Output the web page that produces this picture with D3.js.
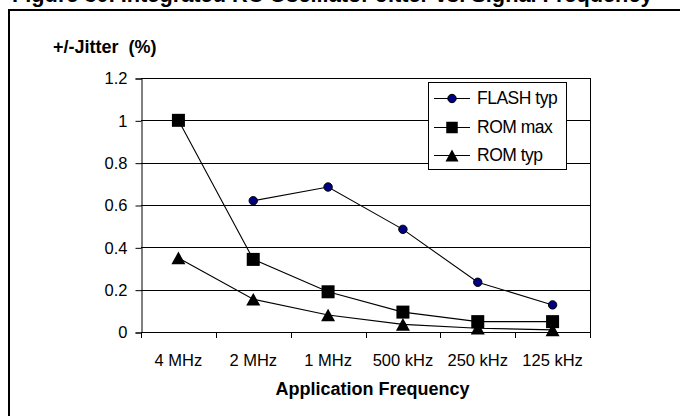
<!DOCTYPE html>
<html>
<head>
<meta charset="utf-8">
<script src="https://cdn.jsdelivr.net/npm/d3@7"></script>
<style>
  html, body { margin: 0; padding: 0; background: #fff; }
  svg { display: block; font-family: "Liberation Sans", Arial, sans-serif; }
</style>
</head>
<body>
<svg id="chart" width="680" height="416"></svg>
<script>
const categories = ["4 MHz", "2 MHz", "1 MHz", "500 kHz", "250 kHz", "125 kHz"];
const flashTyp = [null, 0.62, 0.685, 0.485, 0.235, 0.128];
const romMax   = [1.0, 0.343, 0.19, 0.094, 0.049, 0.049];
const romTyp   = [0.35, 0.155, 0.08, 0.036, 0.018, 0.01];
const yTicks   = [0, 0.2, 0.4, 0.6, 0.8, 1, 1.2];
const seriesNames = ["FLASH typ", "ROM max", "ROM typ"];
const titleText = "Figure 30. Integrated RC Oscillator Jitter vs. Signal Frequency";
const yTitle = "+/-Jitter  (%)";
const xTitle = "Application Frequency";

const svg = d3.select("#chart");
const pLeft = 141, pRight = 590, pTop = 78, pBottom = 332;

const x = d3.scaleBand().domain(categories).range([pLeft, pRight]);
const y = d3.scaleLinear().domain([0, 1.2]).range([pBottom, pTop]);

// title, mostly above the top edge (as in the reference crop)
const title = svg.append("text").attr("x", 12).attr("y", 2)
  .attr("font-size", 22).attr("font-weight", "bold").text(titleText);
const tl = title.node().getComputedTextLength();
if (tl > 0) title.attr("font-size", 22 * 641 / tl);

// outer frame
svg.append("rect").attr("x", 9).attr("y", 10).attr("width", 700).attr("height", 440)
  .attr("fill", "none").attr("stroke", "#000").attr("stroke-width", 2);

// gridlines
svg.append("g").selectAll("line").data(yTicks.filter(d => d > 0)).join("line")
  .attr("x1", pLeft).attr("x2", pRight)
  .attr("y1", d => Math.round(y(d)) + 0.5).attr("y2", d => Math.round(y(d)) + 0.5)
  .attr("stroke", "#000").attr("stroke-width", 1);

// right border of plot area
svg.append("line").attr("x1", pRight + 0.5).attr("x2", pRight + 0.5)
  .attr("y1", pTop).attr("y2", pBottom).attr("stroke", "#000");

// y axis
const yAxis = d3.axisLeft(y).tickValues(yTicks).tickSize(6).tickPadding(8)
  .tickFormat(d => d3.format("")(d));
const gy = svg.append("g").attr("transform", `translate(${pLeft + 0.5},0.5)`).call(yAxis);
gy.select(".domain").attr("stroke", "#000");
gy.selectAll("text").attr("font-size", 16.5).attr("fill", "#000")
  .attr("font-family", '"Liberation Sans", Arial, sans-serif');

// x axis
const xAxis = d3.axisBottom(x).tickSize(0).tickPadding(22);
const gx = svg.append("g").attr("transform", `translate(0,${pBottom + 0.5})`).call(xAxis);
gx.select(".domain").attr("stroke", "#000").attr("d", `M${pLeft},0H${pRight + 0.5}`);
gx.selectAll("text").attr("font-size", 16.5).attr("fill", "#000")
  .attr("font-family", '"Liberation Sans", Arial, sans-serif');
// category boundary ticks
const bounds = categories.map(c => x(c)).concat([pRight]);
svg.append("g").selectAll("line").data(bounds).join("line")
  .attr("x1", d => Math.round(d) + 0.5).attr("x2", d => Math.round(d) + 0.5)
  .attr("y1", pBottom).attr("y2", pBottom + 6).attr("stroke", "#000");

// axis titles
svg.append("text").attr("x", 53).attr("y", 53).attr("font-size", 18)
  .attr("font-weight", "bold").attr("xml:space", "preserve").style("white-space", "pre").text(yTitle);
svg.append("text").attr("x", (pLeft + pRight) / 2 + 7).attr("y", 395).attr("text-anchor", "middle")
  .attr("font-size", 18).attr("font-weight", "bold").text(xTitle);

const cx = i => x(categories[i]) + x.bandwidth() / 2;
const line = d3.line().defined(d => d.v != null).x(d => cx(d.i)).y(d => y(d.v));
const toPts = arr => arr.map((v, i) => ({ v, i }));

function drawSeries(arr, marker) {
  const pts = toPts(arr);
  svg.append("path").datum(pts).attr("d", line).attr("fill", "none")
    .attr("stroke", "#000").attr("stroke-width", 1.1);
  const g = svg.append("g");
  pts.filter(d => d.v != null).forEach(d => marker(g, cx(d.i), y(d.v), false));
}
function circleMarker(g, px, py, leg) {
  g.append("circle").attr("cx", px).attr("cy", py).attr("r", 4.2)
    .attr("fill", "#000080").attr("stroke", "#000").attr("stroke-width", 1);
}
function squareMarker(g, px, py, leg) {
  const s = leg ? 11.5 : 13;
  g.append("rect").attr("x", px - s / 2).attr("y", py - s / 2).attr("width", s).attr("height", s)
    .attr("fill", "#000");
}
function triMarker(g, px, py, leg) {
  const w = leg ? 6.5 : 7, h = leg ? 6 : 6.3;
  g.append("path").attr("d", `M${px},${py - h}L${px + w},${py + h}L${px - w},${py + h}Z`)
    .attr("fill", "#000");
}

drawSeries(flashTyp, circleMarker);
drawSeries(romMax, squareMarker);
drawSeries(romTyp, triMarker);

// legend
const lg = svg.append("g");
lg.append("rect").attr("x", 428.5).attr("y", 82.5).attr("width", 138).attr("height", 87)
  .attr("fill", "#fff").attr("stroke", "#000");
const markers = [circleMarker, squareMarker, triMarker];
const legY = [98, 127, 155];
seriesNames.forEach((name, i) => {
  lg.append("line").attr("x1", 434).attr("x2", 470).attr("y1", legY[i] + 0.5).attr("y2", legY[i] + 0.5)
    .attr("stroke", "#000").attr("stroke-width", 1.1);
  markers[i](lg, 452, legY[i] + 0.5, true);
  lg.append("text").attr("x", 477).attr("y", legY[i] + 6).attr("font-size", 17.5)
    .attr("letter-spacing", -0.5).text(name);
});
</script>
</body>
</html>
